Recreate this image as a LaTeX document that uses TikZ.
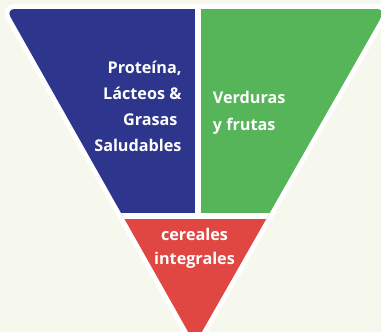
\documentclass[tikz,border=0pt]{standalone}
\usepackage{fontspec}
\setmainfont{Open Sans}
\definecolor{bgc}{RGB}{246,248,238}
\definecolor{blueC}{RGB}{46,53,140}
\definecolor{greenC}{RGB}{86,181,88}
\definecolor{redC}{RGB}{224,70,66}
\tikzset{
  lbl/.style={text=white, inner sep=0pt, font=\bfseries\fontsize{16.2}{20}\selectfont},
  lblr/.style={text=white, inner sep=0pt, font=\bfseries\fontsize{16.2}{20}\selectfont},
  gap/.style={white, line width=5.7pt}
}
\begin{document}
\begin{tikzpicture}[x=1pt,y=-1pt]
\fill[bgc] (0,0) rectangle (381,332);
\useasboundingbox (0,0) rectangle (381,332);
\coordinate (A) at (6,9);
\coordinate (B) at (386,9);
\coordinate (C) at (195,344);
\filldraw[white, line width=10pt, rounded corners=9pt, line join=round] (A) -- (B) -- (C) -- cycle;
\begin{scope}
\clip[rounded corners=9pt] (A) -- (B) -- (C) -- cycle;
\fill[blueC] (0,0) rectangle (198,216);
\fill[greenC] (198,0) rectangle (400,216);
\fill[redC] (0,216) rectangle (400,400);
\coordinate (g1) at (198,0);
\coordinate (g2) at (198,216);
\coordinate (h1) at (0,216);
\coordinate (h2) at (400,216);
\draw[gap] (g1) -- (g2);
\draw[gap] (h1) -- (h2);
\end{scope}
\node[lbl, anchor=base east] (p1) at (181.7,73.3) {Proteína,};
\node[lbl, anchor=base east] (p2) at (181.7,99.5) {Lácteos \&};
\node[lbl, anchor=base east] (p3) at (181.7,125.5) {Grasas\hspace*{4pt}};
\node[lbl, anchor=base east] (p4) at (181.7,151) {Saludables};
\node[lbl, anchor=base west] (v1) at (212.7,103) {Verduras};
\node[lbl, anchor=base west] (v2) at (212.7,130) {y frutas};
\node[lblr, anchor=base] (c1) at (194.5,240) {cereales};
\node[lblr, anchor=base] (c2) at (194.5,264) {integrales};
\end{tikzpicture}
\end{document}
